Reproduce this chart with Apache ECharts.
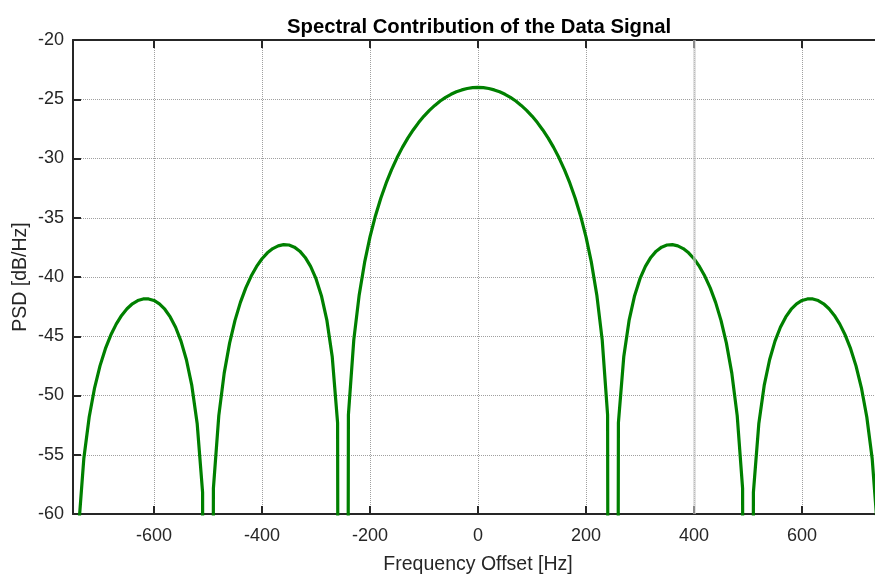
<!DOCTYPE html>
<html>
<head>
<meta charset="utf-8">
<title>Spectral Contribution of the Data Signal</title>
<script src="https://cdn.jsdelivr.net/npm/echarts@6/dist/echarts.min.js"></script>
<style>
  html, body { margin: 0; padding: 0; background: #ffffff; }
  #chart { width: 875px; height: 574px; }
</style>
</head>
<body>
<div id="chart"></div>
<script>
// Frequency offset samples [Hz]
const freqHz = [
  -750, -740, -730, -720, -710, -700, -690, -680, -670, -660,
  -650, -640, -630, -620, -610, -600, -590, -580, -570, -560,
  -550, -540, -530, -520, -510, -500, -490, -480, -470, -460,
  -450, -440, -430, -420, -410, -400, -390, -380, -370, -360,
  -350, -340, -330, -320, -310, -300, -290, -280, -270, -260,
  -250, -240, -230, -220, -210, -200, -190, -180, -170, -160,
  -150, -140, -130, -120, -110, -100, -90, -80, -70, -60,
  -50, -40, -30, -20, -10, 0, 10, 20, 30, 40,
  50, 60, 70, 80, 90, 100, 110, 120, 130, 140,
  150, 160, 170, 180, 190, 200, 210, 220, 230, 240,
  250, 260, 270, 280, 290, 300, 310, 320, 330, 340,
  350, 360, 370, 380, 390, 400, 410, 420, 430, 440,
  450, 460, 470, 480, 490, 500, 510, 520, 530, 540,
  550, 560, 570, 580, 590, 600, 610, 620, 630, 640,
  650, 660, 670, 680, 690, 700, 710, 720, 730, 740,
  750
];

// Power spectral density of the data signal [dB/Hz]; the nulls sit far below the axis floor
const psdDb = [
  -300, -61.41, -55.34, -51.81, -49.35, -47.50, -46.05, -44.90, -43.98, -43.24,
  -42.68, -42.26, -41.99, -41.85, -41.85, -41.98, -42.27, -42.72, -43.37, -44.24,
  -45.41, -46.98, -49.15, -52.39, -58.17, -300, -57.83, -51.70, -48.11, -45.58,
  -43.66, -42.14, -40.92, -39.92, -39.11, -38.46, -37.96, -37.60, -37.37, -37.27,
  -37.30, -37.48, -37.82, -38.35, -39.10, -40.14, -41.58, -43.61, -46.70, -52.32,
  -300, -51.63, -45.31, -41.51, -38.77, -36.62, -34.85, -33.35, -32.06, -30.94,
  -29.94, -29.06, -28.28, -27.59, -26.97, -26.42, -25.94, -25.52, -25.15, -24.84,
  -24.58, -24.37, -24.21, -24.09, -24.02, -24.00, -24.02, -24.09, -24.21, -24.37,
  -24.58, -24.84, -25.15, -25.52, -25.94, -26.42, -26.97, -27.59, -28.28, -29.06,
  -29.94, -30.94, -32.06, -33.35, -34.85, -36.62, -38.77, -41.51, -45.31, -51.63,
  -300, -52.32, -46.70, -43.61, -41.58, -40.14, -39.10, -38.35, -37.82, -37.48,
  -37.30, -37.27, -37.37, -37.60, -37.96, -38.46, -39.11, -39.92, -40.92, -42.14,
  -43.66, -45.58, -48.11, -51.70, -57.83, -300, -58.17, -52.39, -49.15, -46.98,
  -45.41, -44.24, -43.37, -42.72, -42.27, -41.98, -41.85, -41.85, -41.99, -42.26,
  -42.68, -43.24, -43.98, -44.90, -46.05, -47.50, -49.35, -51.81, -55.34, -61.41,
  -300
];

// Tick positions
const xTicksHz = [-600, -400, -200, 0, 200, 400, 600];
const xRangeHz = [-750, 750];
const yRangeDb = [-60, -20];
const yStepDb = 5;
const shadedGridHz = [400];

const FONT = '"Liberation Sans", Arial, Helvetica, sans-serif';
const INK = '#262626';
const GRID = '#a0a0a0';

const chart = echarts.init(document.getElementById('chart'), null, { renderer: 'canvas' });

const axisLine = { show: true, onZero: false, lineStyle: { color: INK, width: 2 } };
const tickStyle = { show: true, inside: true, length: 8, lineStyle: { color: INK, width: 2 } };
const splitStyle = { show: true, lineStyle: { color: GRID, width: 1, type: [1, 1] } };

const points = freqHz.map((f, i) => [f, psdDb[i]]);

chart.setOption({
  animation: false,
  backgroundColor: '#ffffff',
  title: {
    text: 'Spectral Contribution of the Data Signal',
    left: 282,
    top: 12,
    textStyle: { fontFamily: FONT, fontSize: 20.3, fontWeight: 'bold', color: '#000000' }
  },
  // the plot box runs past the right edge of the canvas, so its right frame is cut off
  grid: { left: 73, top: 40, width: 810, height: 474, containLabel: false, outerBoundsMode: 'none' },
  xAxis: [
    {
      type: 'value', position: 'bottom',
      min: xRangeHz[0], max: xRangeHz[1],
      name: 'Frequency Offset [Hz]', nameLocation: 'middle', nameGap: 41,
      nameTextStyle: { fontFamily: FONT, fontSize: 19.5, color: INK },
      axisLine: axisLine,
      axisTick: Object.assign({ customValues: xTicksHz }, tickStyle),
      axisLabel: { customValues: xTicksHz, fontFamily: FONT, fontSize: 18, color: INK, margin: 13 },
      splitLine: splitStyle
    },
    {
      type: 'value', position: 'top',
      min: xRangeHz[0], max: xRangeHz[1],
      axisLine: axisLine,
      axisTick: Object.assign({ customValues: xTicksHz }, tickStyle),
      axisLabel: { show: false },
      splitLine: { show: false }
    }
  ],
  yAxis: [
    {
      type: 'value', position: 'left',
      min: yRangeDb[0], max: yRangeDb[1], interval: yStepDb,
      name: 'PSD [dB/Hz]', nameLocation: 'middle', nameGap: 42, nameRotate: 90,
      nameMoveOverlap: false,
      nameTextStyle: { fontFamily: FONT, fontSize: 19.5, color: INK },
      axisLine: axisLine,
      axisTick: tickStyle,
      axisLabel: { fontFamily: FONT, fontSize: 18, color: INK, margin: 9 },
      splitLine: splitStyle
    },
    {
      type: 'value', position: 'right',
      min: yRangeDb[0], max: yRangeDb[1], interval: yStepDb,
      axisLine: axisLine,
      axisTick: tickStyle,
      axisLabel: { show: false },
      splitLine: { show: false }
    }
  ],
  series: [
    {
      type: 'line',
      xAxisIndex: 0, yAxisIndex: 0,
      data: points,
      showSymbol: false,
      clip: true,
      lineStyle: { color: '#008000', width: 3.2 },
      z: 3,
      markLine: {
        silent: true,
        symbol: 'none',
        label: { show: false },
        lineStyle: { color: 'rgba(205,205,205,0.6)', width: 3, type: 'solid' },
        data: shadedGridHz.map(v => ({ xAxis: v }))
      }
    }
  ]
});
</script>
</body>
</html>
